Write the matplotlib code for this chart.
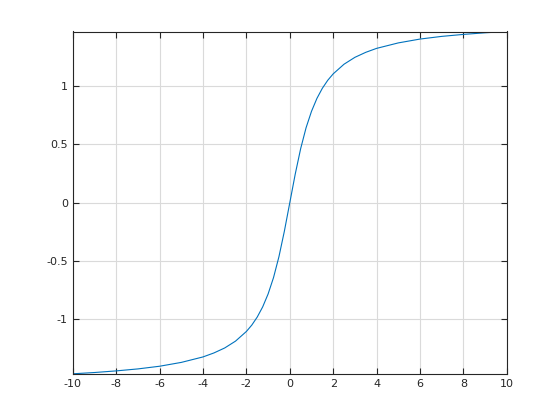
import matplotlib
matplotlib.use("Agg")
import matplotlib.pyplot as plt

# values
x_vals = [-10, -9, -8, -7, -6, -5, -4, -3.5, -3, -2.5, -2, -1.75, -1.5, -1.25, -1,
          -0.75, -0.5, -0.25, 0, 0.25, 0.5, 0.75, 1, 1.25, 1.5, 1.75, 2, 2.5, 3,
          3.5, 4, 5, 6, 7, 8, 9, 10]
y_vals = [-1.471, -1.460, -1.446, -1.429, -1.406, -1.373, -1.326, -1.292, -1.249,
          -1.190, -1.107, -1.052, -0.983, -0.896, -0.785, -0.644, -0.464, -0.245,
          0.0, 0.245, 0.464, 0.644, 0.785, 0.896, 0.983, 1.052, 1.107, 1.190,
          1.249, 1.292, 1.326, 1.373, 1.406, 1.429, 1.446, 1.460, 1.471]

x_ticks = [-10, -8, -6, -4, -2, 0, 2, 4, 6, 8, 10]
y_ticks = [-1, -0.5, 0, 0.5, 1]
y_labels = ["-1", "-0.5", "0", "0.5", "1"]
x_labels = [str(t) for t in x_ticks]

fig = plt.figure(figsize=(5.6, 4.2), dpi=100)
ax = fig.add_axes([0.13, 0.11, 0.775, 0.815])
ax.plot(x_vals, y_vals, color="#0072BD", linewidth=0.8)

ax.set_xlim(-10, 10)
ax.set_ylim(min(y_vals), max(y_vals))
ax.set_xticks(x_ticks)
ax.set_xticklabels(x_labels)
ax.set_yticks(y_ticks)
ax.set_yticklabels(y_labels)

ax.grid(True, color="#dadada", linewidth=0.8)
ax.set_axisbelow(True)
for s in ax.spines.values():
    s.set_color("#262626")
    s.set_linewidth(0.8)
ax.tick_params(direction="in", top=True, right=True, length=4, width=0.8,
               color="#262626", labelcolor="#262626", labelsize=8)

fig.savefig("out.png", dpi=100)
